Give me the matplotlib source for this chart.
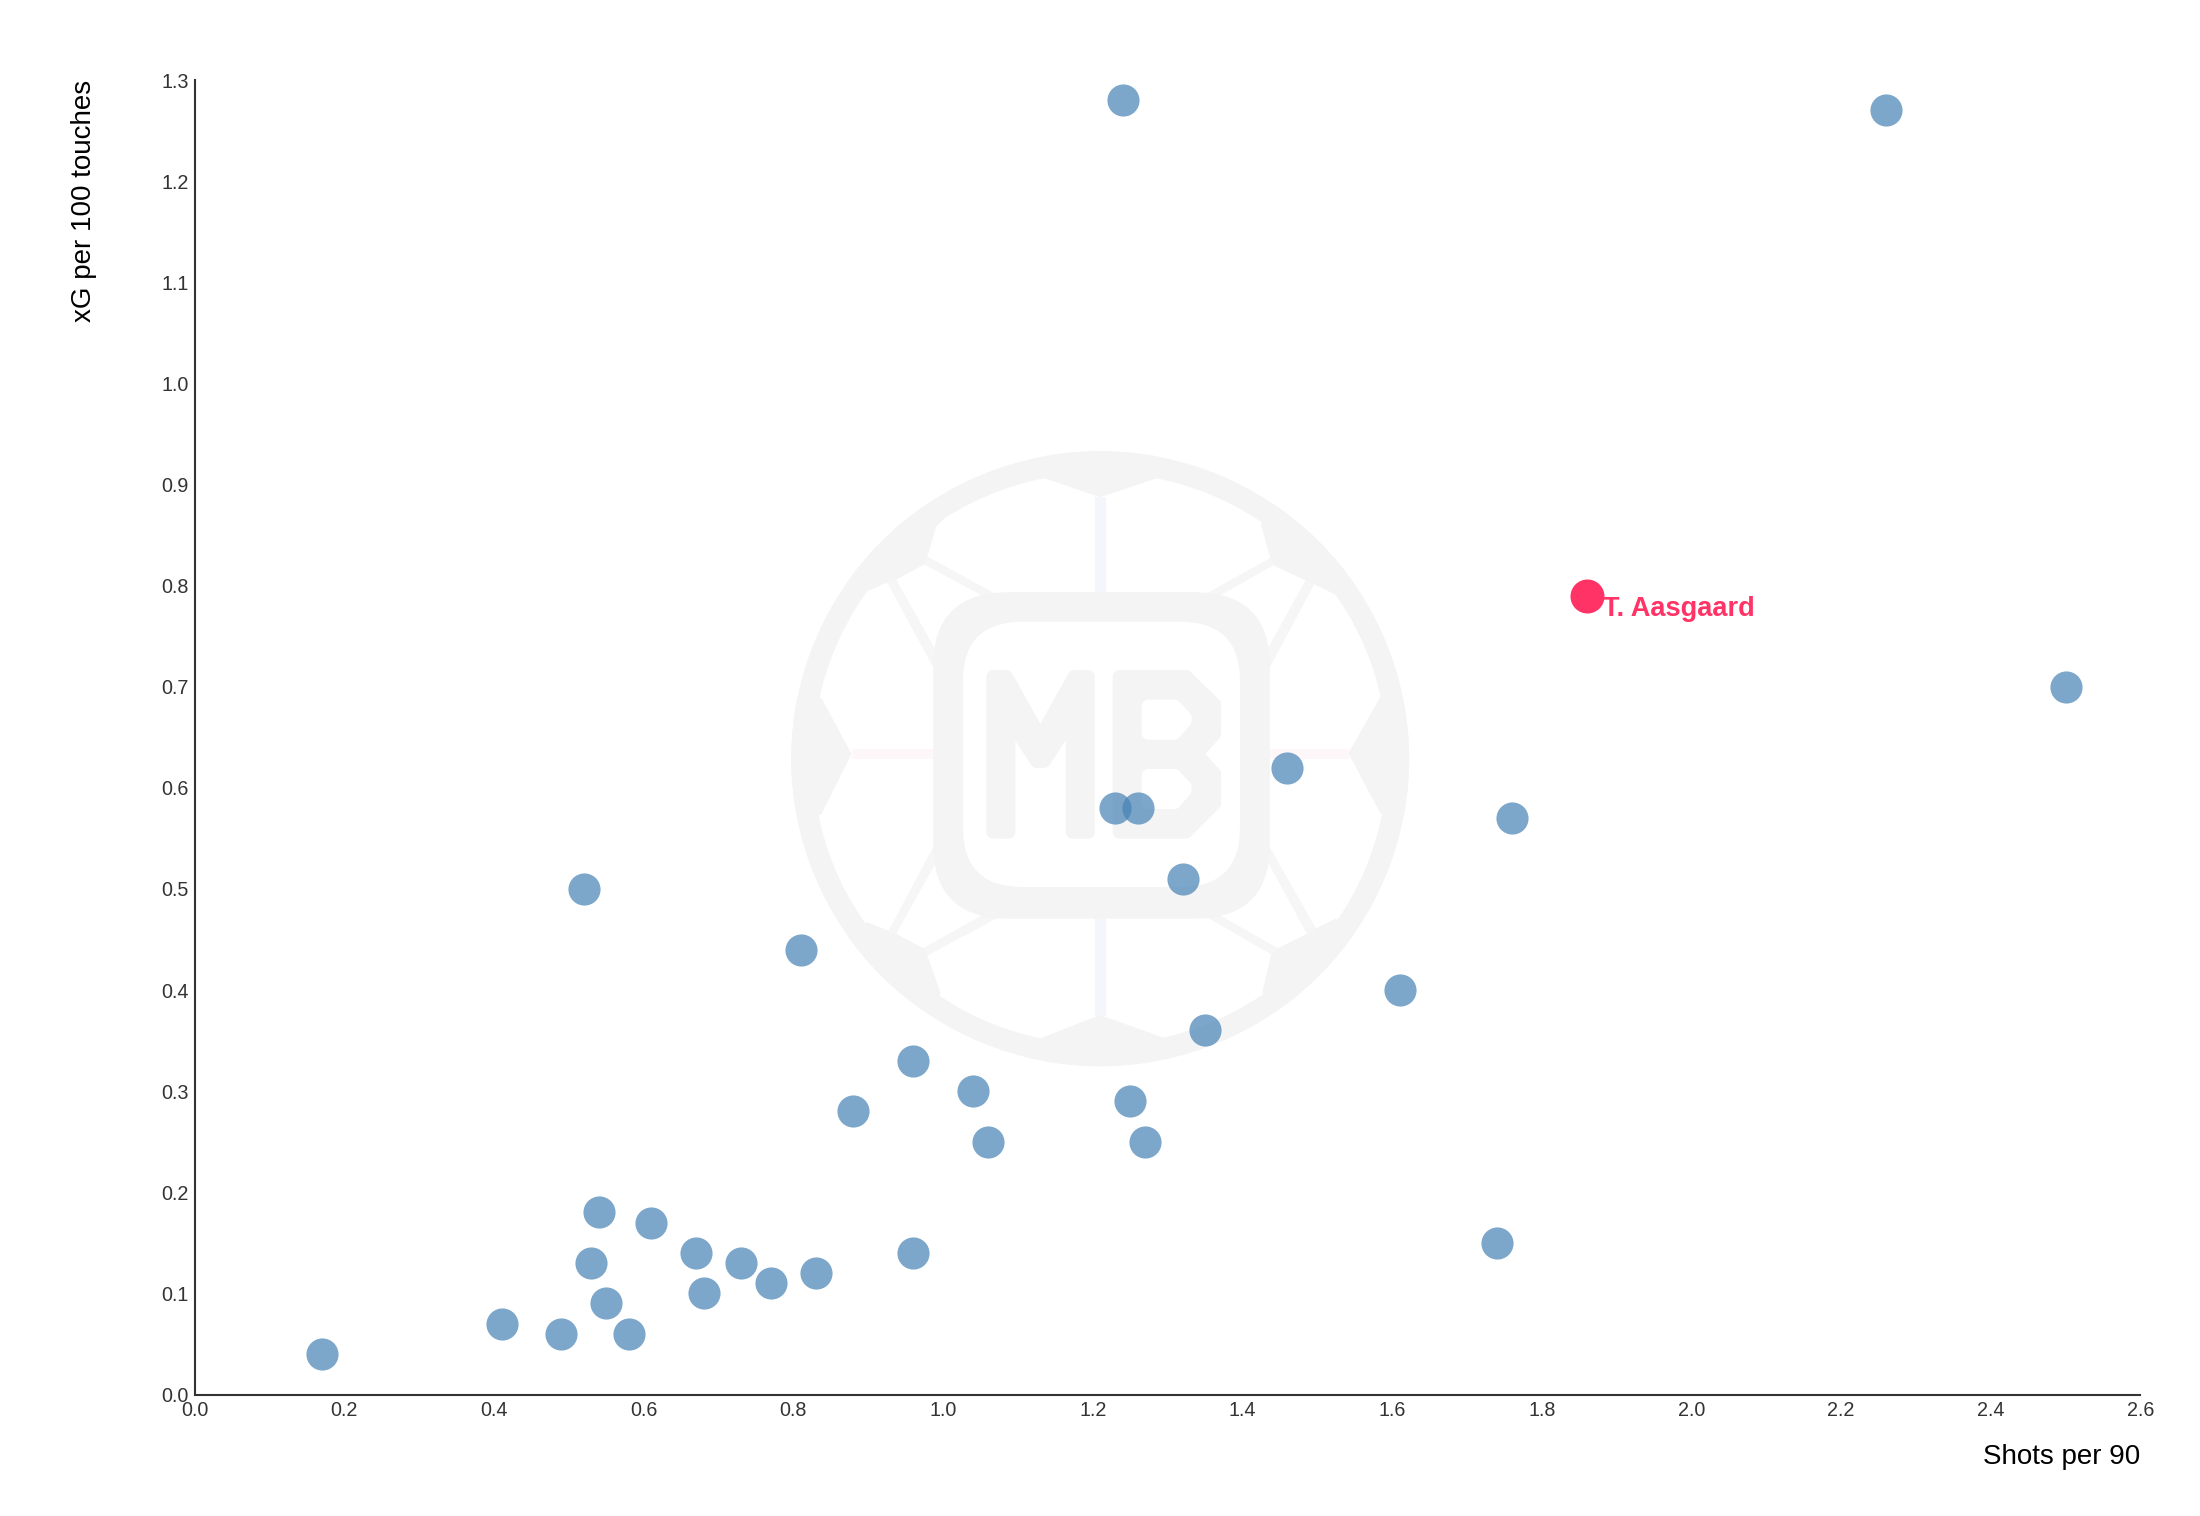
#Scatter of shots per 90 against xG per 100 touches, with the MB logo behind it.

import matplotlib
matplotlib.use('Agg')
import matplotlib.pyplot as plt
from matplotlib.patches import Polygon, Rectangle, FancyBboxPatch, Ellipse

shots_per_90 = [0.17, 0.41, 0.49, 0.58, 0.55, 0.53, 0.54, 0.61, 0.67, 0.68, 0.73,
                0.77, 0.83, 0.96, 0.88, 0.96, 1.04, 1.06, 1.25, 1.27, 1.35, 1.61,
                1.74, 1.32, 1.23, 1.26, 1.46, 1.76, 0.52, 0.81, 1.24, 2.26, 2.50]
xg_per_100 = [0.04, 0.07, 0.06, 0.06, 0.09, 0.13, 0.18, 0.17, 0.14, 0.10, 0.13,
              0.11, 0.12, 0.14, 0.28, 0.33, 0.30, 0.25, 0.29, 0.25, 0.36, 0.40,
              0.15, 0.51, 0.58, 0.58, 0.62, 0.57, 0.50, 0.44, 1.28, 1.27, 0.70]
highlight_name = 'T. Aasgaard'
highlight_x = [1.86]
highlight_y = [0.79]
x_ticks = [0.0, 0.2, 0.4, 0.6, 0.8, 1.0, 1.2, 1.4, 1.6, 1.8, 2.0, 2.2, 2.4, 2.6]
y_ticks = [0.0, 0.1, 0.2, 0.3, 0.4, 0.5, 0.6, 0.7, 0.8, 0.9, 1.0, 1.1, 1.2, 1.3]

W, H = 2200, 1516
plt.rcParams['font.family'] = ['Liberation Sans', 'DejaVu Sans']


def px_axes(fig, left, top, width, height, **kw):
    return fig.add_axes([left / W, 1 - (top + height) / H, width / W, height / H], **kw)


def rounded(ax, pts, color):
    # round joins give the letters their soft corners
    ax.add_patch(Polygon(pts, closed=True, facecolor=color, edgecolor=color,
                         lw=4.8, joinstyle='round'))


def draw_logo(ax):
    grey = '#f4f4f4'
    cx, cy = 762, 781
    ax.set_xlim(0, 1568)
    ax.set_ylim(1568, 0)
    ax.axis('off')

    # ball: ring first, spokes and dark panels clipped to the outer edge
    outer = Ellipse((cx, cy), 1384, 1418, color=grey, lw=0)
    ax.add_patch(outer)
    ax.add_patch(Ellipse((cx, cy), 1384 * 0.93, 1418 * 0.93, color='white', lw=0))

    ax.add_patch(Rectangle((750, 178), 25, 222, color='#f5f6fb', lw=0))
    ax.add_patch(Rectangle((750, 1148), 25, 226, color='#f5f6fb', lw=0))
    ax.add_patch(Rectangle((205, 758), 185, 24, color='#fdf7f9', lw=0))
    ax.add_patch(Rectangle((1140, 758), 180, 24, color='#fdf7f9', lw=0))
    thin = [[(375, 315), (535, 405), (510, 412), (368, 333)],
            [(285, 375), (305, 368), (397, 537), (388, 570)],
            [(1143, 318), (995, 403), (1018, 412), (1150, 335)],
            [(1222, 370), (1242, 378), (1142, 570), (1132, 537)],
            [(375, 1235), (538, 1145), (510, 1135), (365, 1218)],
            [(288, 1178), (305, 1185), (397, 1015), (388, 985)],
            [(1145, 1232), (995, 1143), (1018, 1135), (1160, 1218)],
            [(1225, 1185), (1245, 1172), (1142, 985), (1132, 1008)]]
    for pts in thin:
        ax.add_patch(Polygon(pts, closed=True, color='#f6f6f6', lw=0))

    panels = [[(630, 132), (762, 178), (895, 132), (890, 60), (640, 60)],
              [(1390, 638), (1318, 768), (1390, 908), (1470, 908), (1470, 638)],
              [(137, 640), (205, 770), (137, 910), (60, 910), (60, 640)],
              [(630, 1425), (762, 1372), (905, 1425), (900, 1500), (640, 1500)],
              [(412, 228), (395, 245), (375, 315), (368, 333), (305, 368), (285, 375),
               (240, 395), (180, 350), (360, 170)],
              [(1122, 240), (1143, 318), (1150, 335), (1222, 370), (1240, 378),
               (1288, 402), (1350, 350), (1160, 170)],
              [(240, 1158), (288, 1178), (305, 1185), (365, 1218), (375, 1235),
               (405, 1322), (360, 1390), (180, 1200)],
              [(1125, 1320), (1145, 1232), (1160, 1218), (1225, 1185), (1245, 1172),
               (1290, 1150), (1350, 1200), (1170, 1390)]]
    for pts in panels:
        panel = Polygon(pts, closed=True, color=grey, lw=0)
        ax.add_patch(panel)
        panel.set_clip_path(outer)

    # rounded frame
    ax.add_patch(FancyBboxPatch((388 + 170, 397 + 170), 754 - 340, 753 - 340,
                                boxstyle='round,pad=170,rounding_size=170',
                                color=grey, lw=0))
    ax.add_patch(FancyBboxPatch((455 + 135, 465 + 135), 620 - 270, 612 - 270,
                                boxstyle='round,pad=135,rounding_size=135',
                                color='white', lw=0))

    # letters, inset so the round joins land on the outlines
    m = [(522, 592), (552, 592), (628, 732), (704, 592), (735, 592), (735, 950), (700, 950),
         (700, 688), (636, 787), (620, 787), (557, 688), (557, 950), (522, 950)]
    b = [(805, 592), (954, 592), (1018, 656), (1018, 724), (977, 770), (1018, 816),
         (1018, 884), (954, 950), (805, 950)]
    b_top = [(870, 660), (928, 660), (952, 686), (952, 694), (928, 722), (870, 722)]
    b_low = [(870, 820), (928, 820), (952, 846), (952, 854), (928, 882), (870, 882)]
    rounded(ax, m, grey)
    rounded(ax, b, grey)
    rounded(ax, b_top, 'white')
    rounded(ax, b_low, 'white')


fig = plt.figure(figsize=(W / 200, H / 200), dpi=200, facecolor='white')

logo_ax = px_axes(fig, 760, 420, 700, 680, zorder=0)
draw_logo(logo_ax)

ax = px_axes(fig, 194.7, 80, 1945.7, 1314.5, zorder=1)
ax.patch.set_alpha(0)
ax.scatter(shots_per_90, xg_per_100, s=134, color='#4682b4', alpha=0.7, linewidths=0, zorder=3)
ax.scatter(highlight_x, highlight_y, s=150, color='#ff3366', linewidths=0, zorder=4)
ax.annotate(highlight_name, (highlight_x[0], highlight_y[0]), xytext=(5.8, -7.4),
            textcoords='offset points', color='#ff3366', fontsize=9.8, fontweight='bold',
            va='baseline', zorder=5)

ax.set_xlim(0, 2.6)
ax.set_ylim(0, 1.3)
ax.set_xticks(x_ticks)
ax.set_yticks(y_ticks)
ax.set_xticklabels(['%.1f' % t for t in x_ticks])
ax.set_yticklabels(['%.1f' % t for t in y_ticks])
ax.tick_params(length=0, labelsize=7.1, labelcolor='#333333', pad=2.2)
for side in ['top', 'right']:
    ax.spines[side].set_visible(False)
for side in ['left', 'bottom']:
    ax.spines[side].set_color('#333333')
    ax.spines[side].set_linewidth(0.75)

ax.set_xlabel('Shots per 90', loc='right', fontsize=10, color='black')
ax.set_ylabel('xG per 100 touches', loc='top', fontsize=10, color='black')
ax.xaxis.set_label_coords(1, -49 / 1314)
ax.yaxis.set_label_coords(-98 / 1945.7, 1)

fig.savefig('out.png', dpi=200, facecolor='white')
